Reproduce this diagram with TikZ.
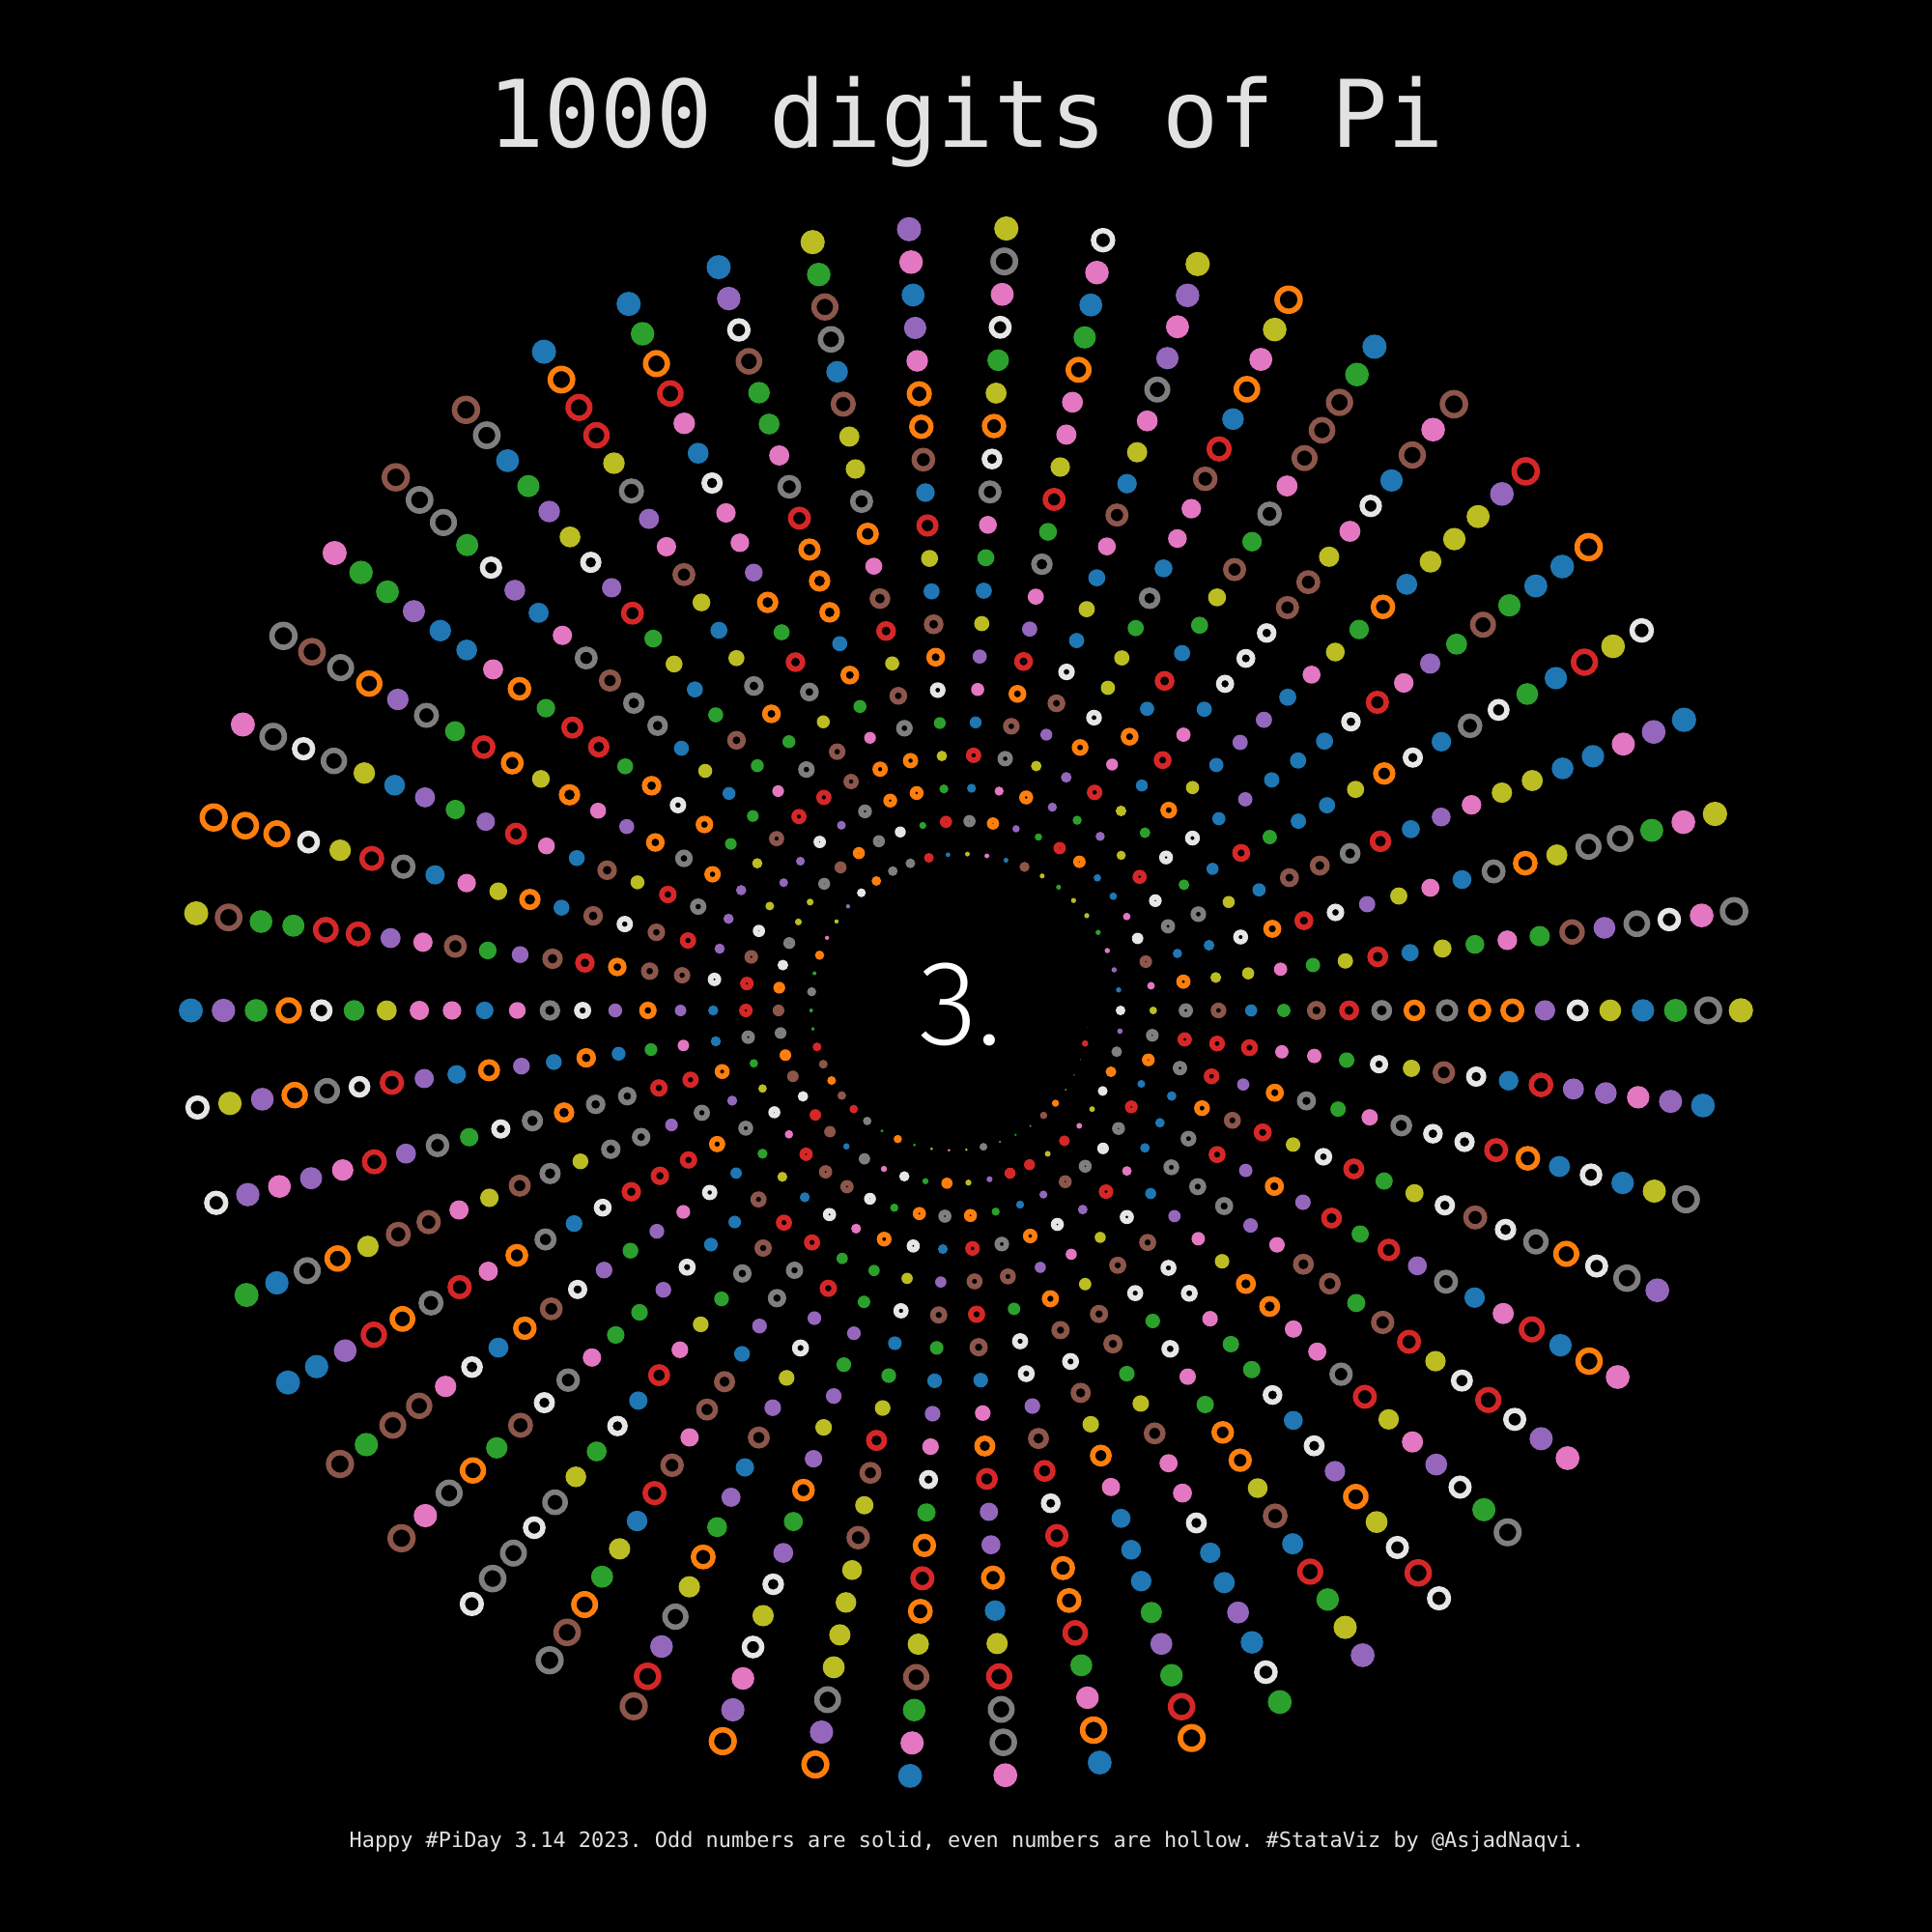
\documentclass[tikz,border=0pt]{standalone}
\usepackage{fontspec}
\setmonofont{DejaVu Sans Mono}
\newfontfamily\centerfont{Fira Sans}[UprightFont={* Light}]
\definecolor{pizero}{HTML}{E6E6E6}
\definecolor{pione}{HTML}{1F77B4}
\definecolor{pitwo}{HTML}{FF7F0E}
\definecolor{pithree}{HTML}{2CA02C}
\definecolor{pifour}{HTML}{D62728}
\definecolor{pifive}{HTML}{9467BD}
\definecolor{pisix}{HTML}{8C564B}
\definecolor{piseven}{HTML}{E377C2}
\definecolor{pieight}{HTML}{7F7F7F}
\definecolor{pinine}{HTML}{BCBD22}
\definecolor{textgray}{HTML}{E2E2E2}
\tikzset{
 hollow/.style={even odd rule},
 d0/.style={hollow,fill=pizero},
 d1/.style={fill=pione},
 d2/.style={hollow,fill=pitwo},
 d3/.style={fill=pithree},
 d4/.style={hollow,fill=pifour},
 d5/.style={fill=pifive},
 d6/.style={hollow,fill=pisix},
 d7/.style={fill=piseven},
 d8/.style={hollow,fill=pieight},
 d9/.style={fill=pinine},
 label text/.style={inner sep=0pt,anchor=base,text=textgray}
}
\newcount\digitno
\newcommand\pidot[2]{%
 \pgfmathsetmacro\rad{1.348+0.006756*#1}%
 \pgfmathsetmacro\px{\rad*cos(-7.2*#1)}%
 \pgfmathsetmacro\py{1.0105*\rad*sin(-7.2*#1)}%
 \pgfmathsetmacro\dia{0.253*sqrt(#1/1000)}%
 \ifodd#2\relax
  \fill[d#2] (\px,\py) circle (\dia/2);
 \else
  \pgfmathsetmacro\ringr{(#2==0 ? 0.395 : 0.475)*\dia}%
  \pgfmathsetmacro\outr{\ringr+0.028}%
  \pgfmathsetmacro\inr{max(\ringr-0.028,0.0005)}%
  \fill[d#2] (\px,\py) circle (\outr) (\px,\py) circle (\inr);
 \fi}
\def\walkdigits#1{%
 \ifx#1\relax\else
  \global\advance\digitno by 1
  \pidot{\the\digitno}{#1}%
  \expandafter\walkdigits
 \fi}
\def\pidigits{
1415926535 8979323846 2643383279 5028841971 6939937510
5820974944 5923078164 0628620899 8628034825 3421170679
8214808651 3282306647 0938446095 5058223172 5359408128
4811174502 8410270193 8521105559 6446229489 5493038196
4428810975 6659334461 2847564823 3786783165 2712019091
4564856692 3460348610 4543266482 1339360726 0249141273
7245870066 0631558817 4881520920 9628292540 9171536436
7892590360 0113305305 4882046652 1384146951 9415116094
3305727036 5759591953 0921861173 8193261179 3105118548
0744623799 6274956735 1885752724 8912279381 8301194912
9833673362 4406566430 8602139494 6395224737 1907021798
6094370277 0539217176 2931767523 8467481846 7669405132
0005681271 4526356082 7785771342 7577896091 7363717872
1468440901 2249534301 4654958537 1050792279 6892589235
4201995611 2129021960 8640344181 5981362977 4771309960
5187072113 4999999837 2978049951 0597317328 1609631859
5024459455 3469083026 4252230825 3344685035 2619311881
7101000313 7838752886 5875332083 8142061717 7669147303
5982534904 2875546873 1159562863 8823537875 9375195778
1857780532 1712268066 1300192787 6611195909 2164201989
}
\begin{document}
\begin{tikzpicture}
 \fill[black] (-9.914,-9.54) rectangle (10.086,10.46);
 \node[label text,font=\ttfamily\fontsize{27.5}{30}\selectfont] (title) at (0.086,8.93) {1000 digits of Pi};
 \node[label text,text=white,font=\centerfont\fontsize{35.6}{40}\selectfont] (pi_int) at (0.03,-0.35) {3.};
 \node[label text,font=\ttfamily\fontsize{6.23}{8}\selectfont] (footer) at (0.096,-8.66) {Happy \#PiDay 3.14 2023. Odd numbers are solid, even numbers are hollow. \#StataViz by @AsjadNaqvi.};
 \global\digitno=0
 \expandafter\walkdigits\pidigits\relax
\end{tikzpicture}
\end{document}
